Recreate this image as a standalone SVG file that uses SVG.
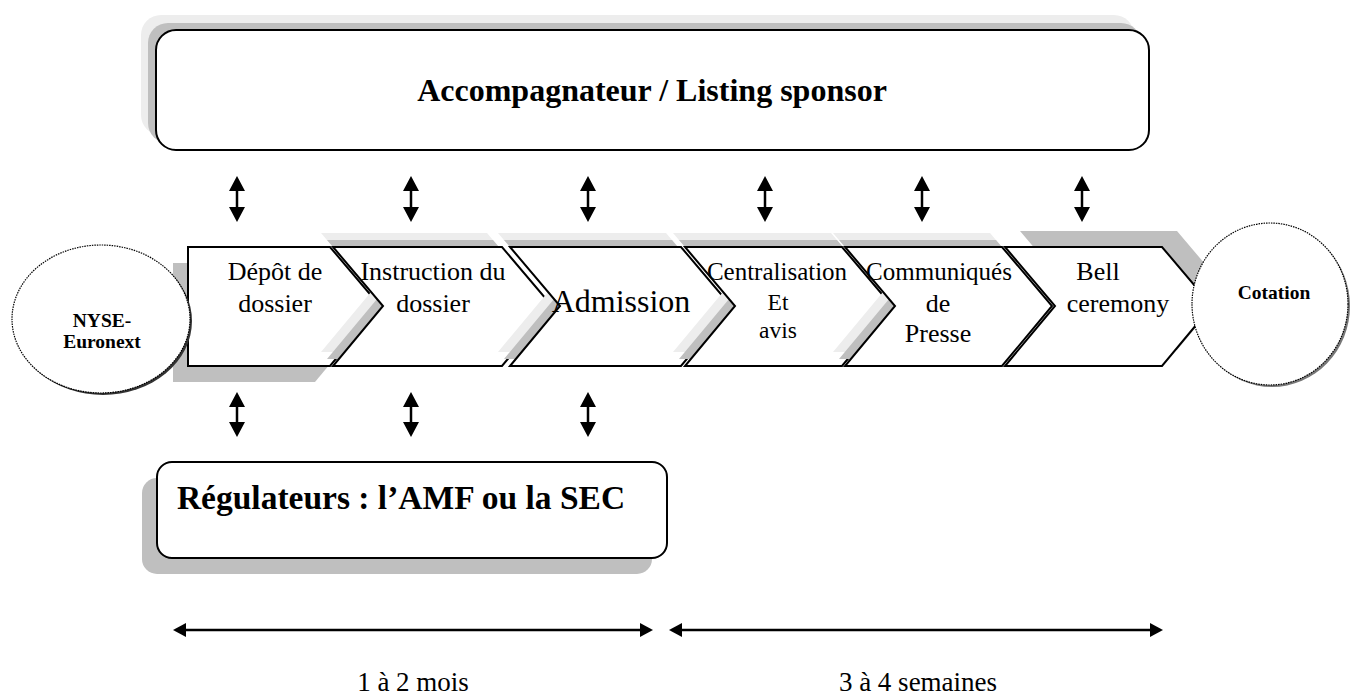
<svg xmlns="http://www.w3.org/2000/svg" width="1350" height="697" viewBox="0 0 1350 697">
<defs>
<style>
.t{font-family:"Liberation Serif","Times New Roman",serif;fill:#000;text-anchor:middle}
.b{font-weight:bold}
.chev{fill:#fff;stroke:#000;stroke-width:2;stroke-linejoin:miter}
.sh1{fill:#bfbfbf}
.sh2{fill:#ededed}
.box{fill:#fff;stroke:#000;stroke-width:2}
.circ{fill:#fff;stroke:#000;stroke-width:1.2;stroke-dasharray:1.5 1}
.vline{stroke:#000;stroke-width:2.5;fill:none}
.hline{stroke:#000;stroke-width:2.5;fill:none}
</style>
<marker id="ah" markerUnits="userSpaceOnUse" markerWidth="15" markerHeight="16" refX="0" refY="8" orient="auto-start-reverse" viewBox="0 0 15 16">
<path d="M0,0 L15,8 L0,16 z" fill="#000"/>
</marker>
<marker id="ah2" markerUnits="userSpaceOnUse" markerWidth="13" markerHeight="14" refX="0" refY="7" orient="auto-start-reverse" viewBox="0 0 13 14">
<path d="M0,0 L13,7 L0,14 z" fill="#000"/>
</marker>
</defs>
<rect width="1350" height="697" fill="#fff"/>

<g id="sponsor">
<rect class="sh2" x="141" y="15" width="993" height="120" rx="20"/>
<rect class="sh1" x="148" y="23" width="993" height="120" rx="20"/>
<rect class="box" x="156" y="30" width="993" height="120" rx="20"/>
<text class="t b" x="652" y="101" font-size="32">Accompagnateur / Listing sponsor</text>
</g>

<g id="regulateurs">
<rect class="sh1" x="142" y="478" width="510" height="96" rx="15"/>
<rect class="box" x="157" y="462" width="510" height="96" rx="15"/>
<text class="t b" x="401" y="509" font-size="33.5">Régulateurs : l’AMF ou la SEC</text>
</g>

<g id="depot">
<polygon class="sh1" points="173,263 315,263 365,322 315,382 173,382"/>
<polygon class="chev" points="188,247 330,247 380,306 330,366 188,366"/>
<text class="t" x="275" y="280" font-size="26">Dépôt de</text>
<text class="t" x="275" y="312" font-size="26">dossier</text>
</g>

<g id="instruction">
<polygon class="sh2" points="321,233 487,233 537,292 487,352 321,352 371,292"/>
<polygon class="sh1" points="327,240 493,240 543,299 493,359 327,359 377,299"/>
<polygon class="chev" points="333,247 502,247 552,306 502,366 333,366 383,306"/>
<text class="t" x="433" y="280" font-size="26">Instruction du</text>
<text class="t" x="433" y="312" font-size="26">dossier</text>
</g>

<g id="admission">
<polygon class="sh2" points="498,233 666,233 716,292 666,352 498,352 548,292"/>
<polygon class="sh1" points="504,240 672,240 722,299 672,359 504,359 554,299"/>
<polygon class="chev" points="510,247 681,247 731,306 681,366 510,366 560,306"/>
<text class="t" x="621" y="312" font-size="32">Admission</text>
</g>

<g id="centralisation">
<polygon class="sh2" points="673,233 831,233 881,292 831,352 673,352 723,292"/>
<polygon class="sh1" points="679,240 837,240 887,299 837,359 679,359 729,299"/>
<polygon class="chev" points="685,247 842,247 892,306 842,366 685,366 735,306"/>
<text class="t" x="777" y="280" font-size="25">Centralisation</text>
<text class="t" x="778" y="310" font-size="23.5">Et</text>
<text class="t" x="778" y="338" font-size="23.5">avis</text>
</g>

<g id="communiques">
<polygon class="sh2" points="833,233 990,233 1040,292 990,352 833,352 883,292"/>
<polygon class="sh1" points="839,240 996,240 1046,299 996,359 839,359 889,299"/>
<polygon class="chev" points="845,247 1002,247 1052,306 1002,366 845,366 895,306"/>
<text class="t" x="939" y="280" font-size="25">Communiqués</text>
<text class="t" x="938" y="312" font-size="26">de</text>
<text class="t" x="938" y="342" font-size="26">Presse</text>
</g>

<g id="bell">
<polygon class="sh1" points="1020,231 1177,231 1227,290 1177,350 1020,350 1070,290"/>
<polygon class="chev" points="1005,247 1162,247 1212,306 1162,366 1005,366 1055,306"/>
<text class="t" x="1098" y="280" font-size="26">Bell</text>
<text class="t" x="1118" y="312" font-size="26">ceremony</text>
</g>

<g id="nyse">
<ellipse cx="103" cy="321" rx="89" ry="74" fill="#333"/>
<ellipse class="circ" cx="101" cy="319" rx="89" ry="74"/>
<text class="t b" x="102" y="327" font-size="19.5">NYSE-</text>
<text class="t b" x="102" y="348" font-size="19.5">Euronext</text>
</g>

<g id="cotation">
<ellipse cx="1272" cy="306" rx="78" ry="81" fill="#777"/>
<ellipse class="circ" cx="1270" cy="304" rx="78" ry="81"/>
<text class="t b" x="1274" y="299" font-size="19.5">Cotation</text>
</g>

<g id="connectors">
<line class="vline" x1="237" y1="191" x2="237" y2="207" marker-start="url(#ah)" marker-end="url(#ah)"/>
<line class="vline" x1="411" y1="191" x2="411" y2="207" marker-start="url(#ah)" marker-end="url(#ah)"/>
<line class="vline" x1="588" y1="191" x2="588" y2="207" marker-start="url(#ah)" marker-end="url(#ah)"/>
<line class="vline" x1="765" y1="191" x2="765" y2="207" marker-start="url(#ah)" marker-end="url(#ah)"/>
<line class="vline" x1="922" y1="191" x2="922" y2="207" marker-start="url(#ah)" marker-end="url(#ah)"/>
<line class="vline" x1="1082" y1="191" x2="1082" y2="207" marker-start="url(#ah)" marker-end="url(#ah)"/>
<line class="vline" x1="237" y1="407" x2="237" y2="422" marker-start="url(#ah)" marker-end="url(#ah)"/>
<line class="vline" x1="411" y1="407" x2="411" y2="422" marker-start="url(#ah)" marker-end="url(#ah)"/>
<line class="vline" x1="588" y1="407" x2="588" y2="422" marker-start="url(#ah)" marker-end="url(#ah)"/>
<line class="hline" x1="186" y1="630" x2="640" y2="630" marker-start="url(#ah2)" marker-end="url(#ah2)"/>
<line class="hline" x1="682" y1="630" x2="1150" y2="630" marker-start="url(#ah2)" marker-end="url(#ah2)"/>
</g>

<g id="durations">
<text class="t" x="413" y="691" font-size="27">1 à 2 mois</text>
<text class="t" x="918" y="691" font-size="27">3 à 4 semaines</text>
</g>
</svg>
